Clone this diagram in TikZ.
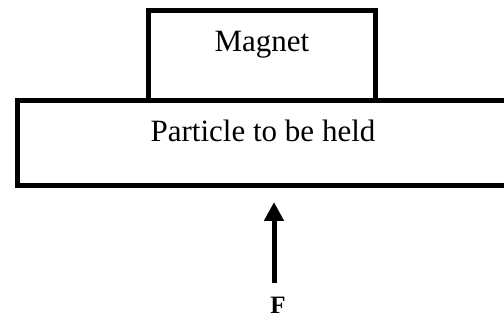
\documentclass[tikz,border=0pt]{standalone}
\usepackage{fontspec}
\setmainfont{Liberation Serif}
\usetikzlibrary{arrows.meta}
\begin{document}
\begin{tikzpicture}[x=1pt,y=-1pt,
  box/.style={draw=black,line width=5pt,inner sep=0pt,outer sep=0pt},
  lbl/.style={font=\fontsize{31}{31}\selectfont,inner sep=0pt,anchor=base},
  force/.style={line width=5pt,-{Triangle[width=19pt,length=19pt]}}]
\clip (0,0) rectangle (504,320);
\fill[white] (0,0) rectangle (504,320);
\node[box,minimum width=227pt,minimum height=90pt] (magnet) at (261.5,56) {};
\node[box,minimum width=493pt,minimum height=85pt] (particle) at (263.5,143.5) {};
\node[lbl] (mt) at (262,52) {Magnet};
\node[lbl] (pt) at (263,142) {Particle to be held};
\node[font=\fontsize{25}{25}\selectfont\bfseries,inner sep=0pt,anchor=base] (F) at (278,314) {F};
\coordinate (tail) at (274,283);
\coordinate (tip) at (274,202);
\draw[force] (tail) -- (tip);
\end{tikzpicture}
\end{document}
